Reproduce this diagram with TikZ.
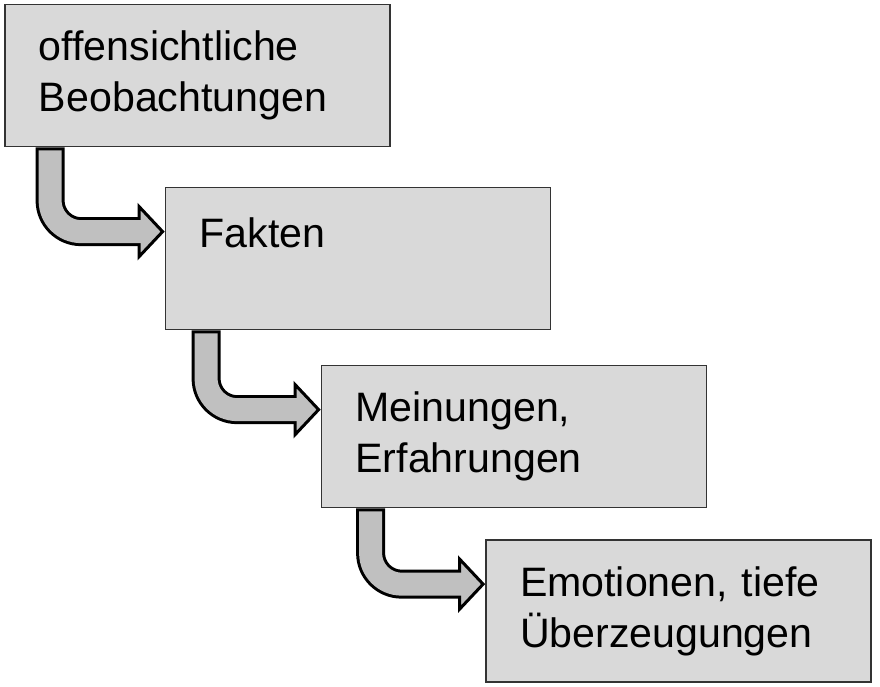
\documentclass[tikz,border=0pt]{standalone}
\usepackage{fontspec}
\setmainfont{Liberation Sans}
\usetikzlibrary{calc}
\definecolor{boxgrau}{HTML}{D9D9D9}
\definecolor{pfeilgrau}{HTML}{C0C0C0}

\begin{document}
\begin{tikzpicture}[
  stufe/.style={rectangle,draw=black!80,fill=boxgrau,line width=0.5pt,minimum width=3.85cm,minimum height=1.42cm,text width=3.17cm,inner xsep=0.34cm,align=left,font=\fontsize{11.7}{14.5}\selectfont},
  pfeilrand/.style={line width=0.29cm,rounded corners=0.31cm},
  pfeilkern/.style={pfeilgrau,line width=0.23cm,rounded corners=0.31cm},
  pfeilkopf/.style={fill=pfeilgrau,draw=black,line width=0.03cm,line join=miter}]
\useasboundingbox (0,0) rectangle (8.8,-6.87);
\path (1.975,-0.755) node(a)[stufe]{offensichtliche\\Beobachtungen}
(3.58,-2.585) node(b)[stufe]{Fakten\\ \mbox{}}
(5.14,-4.365) node(c)[stufe]{Meinungen,\\Erfahrungen}
(6.785,-6.11) node(d)[stufe]{Emotionen, tiefe\\Überzeugungen};
%bent arrows between the steps
\foreach \von/\nach/\dx in {a/b/0.46,b/c/0.415,c/d/0.50}{
  \coordinate (s) at ($(\von.south west)+(\dx,0)$);
  \coordinate (t) at ($(\nach.north west)+(0,-0.45)$);
  \draw[pfeilrand] (s) |- ($(t)+(-0.255,0)$);
  \draw[pfeilkopf] ($(t)+(-0.255,0.25)$) -- ($(t)+(-0.02,0)$) -- ($(t)+(-0.255,-0.25)$) -- cycle;
  \draw[pfeilkern] ($(s)+(0,-0.03)$) |- ($(t)+(-0.22,0)$);
}
\end{tikzpicture}
\end{document}
